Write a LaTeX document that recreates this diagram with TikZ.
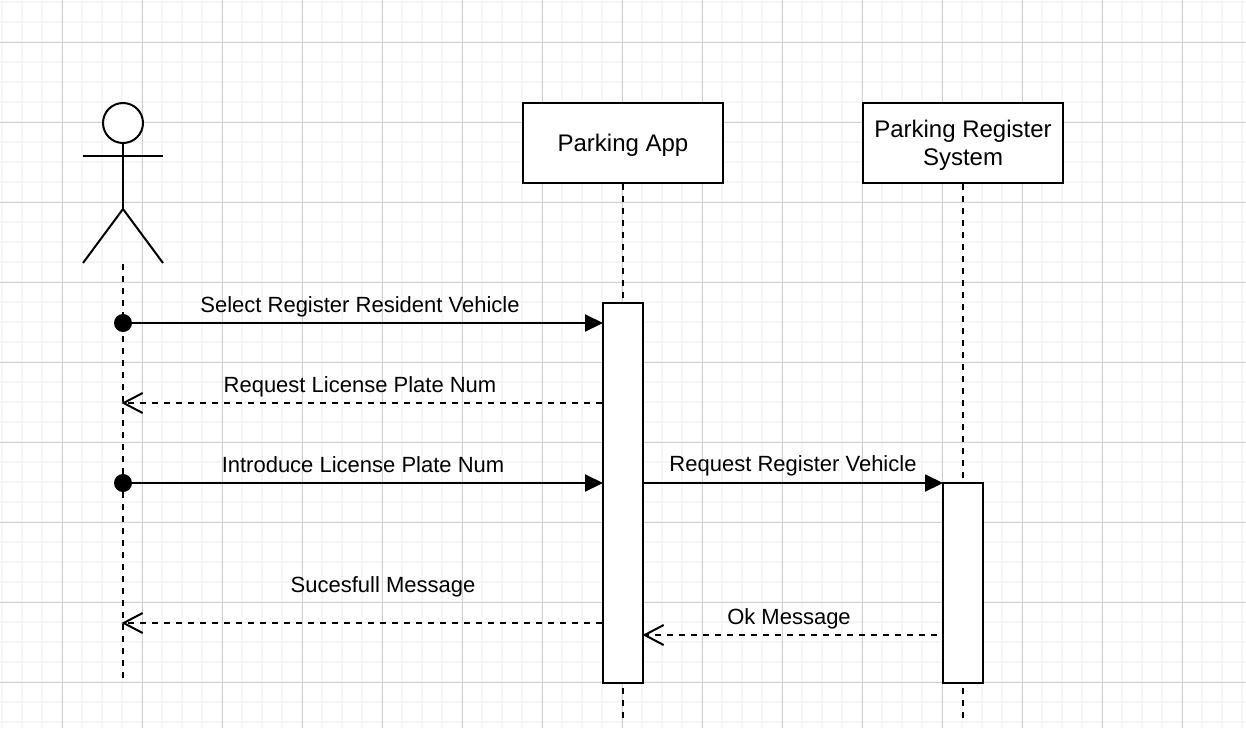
\documentclass[tikz,border=0pt]{standalone}
\usepackage{fontspec}
\setmainfont{Liberation Sans}
\usetikzlibrary{arrows.meta,positioning,calc}
\definecolor{minorline}{RGB}{246,246,246}
\definecolor{majorline}{RGB}{208,208,208}

\begin{document}
\begin{tikzpicture}[x=1pt,y=-1pt,
        box/.style={rectangle, draw=black, line width=2pt, minimum width=200pt, minimum height=80pt, align=center, fill=white, font=\fontsize{24}{28}\selectfont, inner sep=0pt, text depth=0pt},
        bar/.style={rectangle, draw=black, line width=2pt, minimum width=40pt, fill=white, inner sep=0pt},
        head/.style={circle, draw=black, line width=2pt, minimum size=40pt, fill=white, inner sep=0pt},
        startdot/.style={circle, fill=black, minimum size=18pt, inner sep=0pt},
        lifeline/.style={line width=2pt, dash pattern=on 6pt off 6pt},
        limb/.style={line width=2pt},
        call/.style={-{Triangle[length=18pt,width=17pt]}, line width=2pt, shorten >=-1pt},
        reply/.style={-{Straight Barb[length=19pt,width=20pt,line width=2pt]}, line width=2pt, dash pattern=on 6pt off 6pt, shorten >=-1.5pt},
        msg/.style={font=\fontsize{22}{26}\selectfont, inner sep=0pt}]

        \useasboundingbox (0,0) rectangle (1246,728);
        \fill[white] (0,0) rectangle (1246,728);

        % background grid
        \foreach \gx in {2,22,...,1242} \draw[minorline, line width=2pt] (\gx,0) -- (\gx,728);
        \foreach \gy in {2,22,...,722} \draw[minorline, line width=2pt] (0,\gy) -- (1246,\gy);
        \foreach \gx in {62,142,...,1222} \draw[majorline, line width=1pt] (\gx,0) -- (\gx,728);
        \foreach \gy in {42,122,...,682} \draw[majorline, line width=1pt] (0,\gy) -- (1246,\gy);

        % actor
        \node[head] (HEAD) at (123,123) {};
        \coordinate (HIP) at (123,209);
        \coordinate (ARML) at (83,156);
        \coordinate (ARMR) at (163,156);
        \coordinate (FOOTL) at (83,263);
        \coordinate (FOOTR) at (163,263);
        \draw[limb] (HEAD.south) -- (HIP);
        \draw[limb] (ARML) -- (ARMR);
        \draw[limb] (FOOTL) -- (HIP) -- (FOOTR);

        \node[box] (APP) at (623,143) {Parking App};
        \node[box] (REG) at (963,143) {Parking Register\\System};

        % lifelines
        \coordinate (USERTOP) at (123,264);
        \coordinate (USEREND) at (123,678);
        \coordinate (APPEND) at (623,718);
        \coordinate (REGEND) at (963,718);
        \draw[lifeline] (USERTOP) -- (USEREND);
        \draw[lifeline] (APP.south) -- (APPEND);
        \draw[lifeline] (REG.south) -- (REGEND);

        \node[bar, minimum height=380pt] (APPBAR) at (623,493) {};
        \node[bar, minimum height=200pt] (REGBAR) at (963,583) {};

        % messages
        \node[startdot] (DOT1) at (123,323) {};
        \node[startdot] (DOT2) at (123,483) {};
        \coordinate (ASK) at (123,403);
        \coordinate (DONE) at (123,623);
        \coordinate (OKFROM) at (937,635);

        \draw[call] (DOT1) -- (DOT1 -| APPBAR.west);
        \draw[reply] (ASK -| APPBAR.west) -- (ASK);
        \draw[call] (DOT2) -- (DOT2 -| APPBAR.west);
        \draw[call] (DOT2 -| APPBAR.east) -- (DOT2 -| REGBAR.west);
        \draw[reply] (DONE -| APPBAR.west) -- (DONE);
        \draw[reply] (OKFROM) -- (OKFROM -| APPBAR.east);

        \node[msg] (M1) at (360,306.5) {Select Register Resident Vehicle};
        \node[msg] (M2) at (360,387) {Request License Plate Num};
        \node[msg] (M3) at (363,465) {Introduce License Plate Num};
        \node[msg] (M4) at (793,466) {Request Register Vehicle};
        \node[msg] (M5) at (383,587) {Sucesfull Message};
        \node[msg] (M6) at (789,619) {Ok Message};

    \end{tikzpicture}
\end{document}
